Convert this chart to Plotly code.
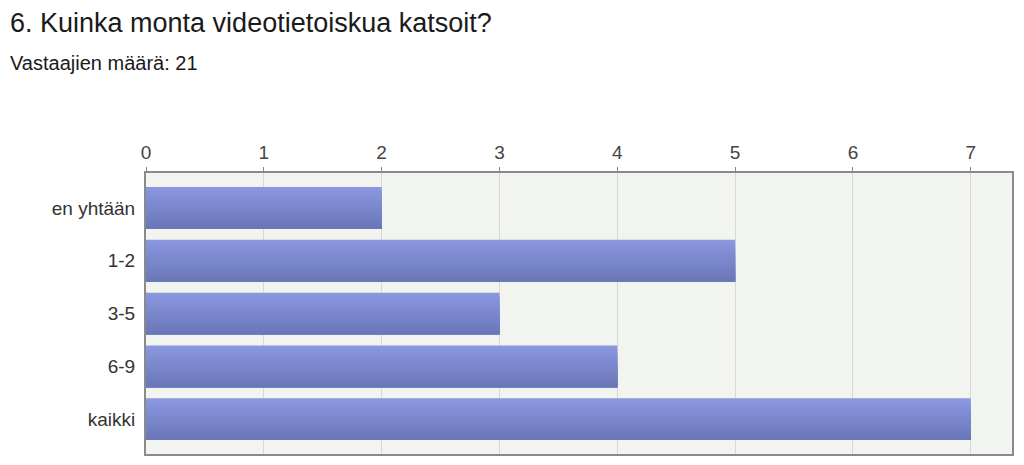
import plotly.graph_objects as go

categories = ["en yhtään", "1-2", "3-5", "6-9", "kaikki"]
counts = [2, 5, 3, 4, 7]
x_ticks = [0, 1, 2, 3, 4, 5, 6, 7]

title_text = "6. Kuinka monta videotietoiskua katsoit?"
subtitle_text = "Vastaajien määrä: 21"

# bar colour goes from light on top to darker below:
# each band runs from its start down to the bar bottom, drawn light -> dark
top_rgb = (138, 151, 224)
bottom_rgb = (106, 119, 184)
n_bands = 12
bar_width = 0.79
band = bar_width / n_bands

fig = go.Figure()

for i in range(n_bands):
    t = i / (n_bands - 1)
    rgb = tuple(round(a + (b - a) * t) for a, b in zip(top_rgb, bottom_rgb))
    fig.add_trace(go.Bar(
        y=categories,
        x=counts,
        orientation="h",
        width=bar_width - i * band,
        offset=-bar_width / 2 + i * band,
        marker=dict(color="rgb(%d,%d,%d)" % rgb, line=dict(width=0)),
        hoverinfo="x+y",
        showlegend=False,
    ))

W, H = 1008, 449
left, top, plot_w, plot_h = 138, 165, 866, 283
bottom = H - top - plot_h

fig.update_layout(
    width=W,
    height=H,
    barmode="overlay",
    paper_bgcolor="white",
    plot_bgcolor="#f2f4ef",
    margin=dict(l=left, r=W - left - plot_w, t=top, b=bottom, pad=0),
    font=dict(family="Liberation Sans, Arial, sans-serif", color="#333333"),
    annotations=[
        dict(text=title_text, xref="paper", yref="paper", x=-left / plot_w,
             y=(H - bottom - 14) / plot_h,
             xanchor="left", yanchor="middle", showarrow=False,
             font=dict(size=27, color="#1a1a1a")),
        dict(text=subtitle_text, xref="paper", yref="paper", x=-left / plot_w,
             y=(H - bottom - 54) / plot_h,
             xanchor="left", yanchor="middle", showarrow=False,
             font=dict(size=20, color="#1a1a1a")),
    ],
)

fig.update_xaxes(
    side="top",
    range=[0, 7.35],
    tickvals=x_ticks,
    ticks="outside",
    ticklen=4,
    tickcolor="#888888",
    tickfont=dict(size=19, color="#444444"),
    showgrid=True,
    gridcolor="#d8d8d8",
    gridwidth=1,
    zeroline=False,
    showline=True,
    linecolor="#8a8a8a",
    linewidth=2,
    mirror=True,
)

fig.update_yaxes(
    range=[4.66, -0.66],
    tickfont=dict(size=19, color="#333333"),
    ticks="",
    ticklabelstandoff=5,
    showgrid=False,
    showline=True,
    linecolor="#8a8a8a",
    linewidth=2,
    mirror=True,
)

fig.write_html("out.html")
